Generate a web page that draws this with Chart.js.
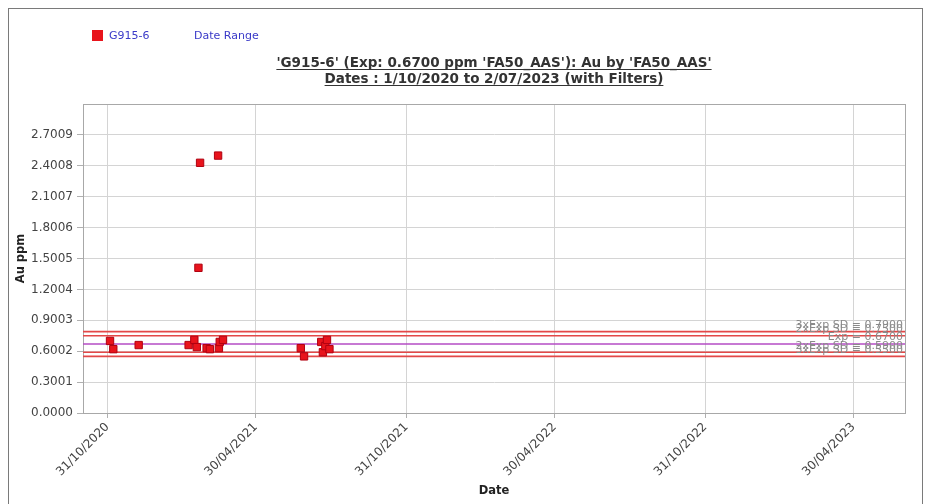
<!DOCTYPE html>
<html><head><meta charset="utf-8">
<script src="https://cdn.jsdelivr.net/npm/chart.js@4/dist/chart.umd.min.js"></script>
<style>
html,body{margin:0;padding:0;background:#fff;}
#wrap{position:relative;width:931px;height:504px;overflow:hidden;}
#frame{position:absolute;left:8px;top:8px;width:913px;height:520px;border:1px solid #7a7a7a;pointer-events:none;}
canvas{position:absolute;left:0;top:0;}
</style></head><body>
<div id="wrap"><canvas id="c" width="931" height="504"></canvas><div id="frame"></div></div>
<script>
// ---- data ----
const sampleDates = ['2020-11-03','2020-11-07','2020-12-08','2021-02-07','2021-02-14','2021-02-17','2021-02-19','2021-02-21','2021-03-01','2021-03-05','2021-03-15','2021-03-16','2021-03-17','2021-03-21','2021-06-24','2021-06-28','2021-07-19','2021-07-21','2021-07-24','2021-07-26','2021-07-29'];
const auValues = [0.70,0.62,0.66,0.66,0.71,0.64,1.41,2.43,0.63,0.62,2.50,0.63,0.69,0.71,0.63,0.55,0.69,0.59,0.65,0.71,0.62];
const refValues = [0.79,0.75,0.67,0.59,0.55];
const refLabels = ['3xExp SD = 0.7900','2xExp SD = 0.7500','Exp = 0.6700','2xExp SD = 0.5900','3xExp SD = 0.5500'];
const refColors = ['#e34848','#e34848','#b54cc4','#e34848','#e34848'];
const xTickDates = ['2020-10-31','2021-04-30','2021-10-31','2022-04-30','2022-10-31','2023-04-30'];
const xRange = ['2020-10-01','2023-07-02'];
const yTickValues = [0.0000,0.3001,0.6002,0.9003,1.2004,1.5005,1.8006,2.1007,2.4008,2.7009];
const yMax = 3.001;
const titleLines = ["'G915-6' (Exp: 0.6700 ppm 'FA50_AAS'): Au by 'FA50_AAS'", "Dates : 1/10/2020 to 2/07/2023 (with Filters)"];
const legendItems = ['G915-6','Date Range'];
const seriesName = 'G915-6';
const xTitle = 'Date', yTitle = 'Au ppm';

// ---- helpers ----
const ms = s => { const p = s.split('-').map(Number); return Date.UTC(p[0], p[1]-1, p[2]); };
const fmt = v => { const d = new Date(v); return d.getUTCDate() + '/' + String(d.getUTCMonth()+1).padStart(2,'0') + '/' + d.getUTCFullYear(); };
const xMin = ms(xRange[0]), xMax = ms(xRange[1]);

const datasets = [{
  type: 'scatter', label: seriesName,
  data: sampleDates.map((d,i) => ({x: ms(d), y: auValues[i]})),
  pointStyle: 'rect', pointRadius: 5.2, pointHoverRadius: 5.2,
  backgroundColor: '#e8141c', borderColor: '#b00010', borderWidth: 1, order: 0
}];
refValues.forEach((v,i) => datasets.push({
  type: 'line', label: refLabels[i],
  data: [{x: xMin, y: v}, {x: xMax, y: v}],
  borderColor: refColors[i], borderWidth: 1.6, pointRadius: 0, fill: false, order: 1
}));

const FONT = 'DejaVu Sans';

const decor = {
  id: 'decor',
  beforeDatasetsDraw(chart) {
    const {ctx, chartArea: a} = chart;
    ctx.save();
    ctx.strokeStyle = '#a8a8a8'; ctx.lineWidth = 1;
    ctx.strokeRect(a.left + 0.5, a.top + 0.5, a.right - a.left, a.bottom - a.top);
    ctx.restore();
  },
  afterDraw(chart) {
    const {ctx, chartArea: a, scales} = chart;
    ctx.save();
    // reference labels
    ctx.font = '11px ' + FONT; ctx.fillStyle = '#8a8a8a';
    ctx.textAlign = 'right'; ctx.textBaseline = 'bottom';
    refValues.forEach((v,i) => {
      const y = scales.y.getPixelForValue(v);
      ctx.fillText(refLabels[i], a.right - 2, y - 1);
    });
    // legend
    ctx.fillStyle = '#e8141c';
    ctx.fillRect(92, 30, 11, 11);
    ctx.fillStyle = '#3a3ac8'; ctx.font = '11px ' + FONT;
    ctx.textAlign = 'left'; ctx.textBaseline = 'middle';
    ctx.fillText(legendItems[0], 109, 36);
    ctx.fillText(legendItems[1], 194, 36);
    // title
    ctx.fillStyle = '#333'; ctx.strokeStyle = '#333'; ctx.lineWidth = 1;
    ctx.font = 'bold 13.5px ' + FONT; ctx.textAlign = 'center'; ctx.textBaseline = 'alphabetic';
    const cx = (a.left + a.right) / 2;
    [67, 83].forEach((y, i) => {
      ctx.fillText(titleLines[i], cx, y);
      const w = ctx.measureText(titleLines[i]).width;
      ctx.beginPath(); ctx.moveTo(cx - w/2, y + 2.5); ctx.lineTo(cx + w/2, y + 2.5); ctx.stroke();
    });
    ctx.restore();
  }
};

new Chart(document.getElementById('c'), {
  data: { datasets },
  options: {
    responsive: false, animation: false, devicePixelRatio: 1,
    layout: { padding: { left: 10, right: 26, top: 104, bottom: 2 } },
    plugins: { legend: { display: false }, title: { display: false }, tooltip: { enabled: false } },
    scales: {
      x: {
        type: 'linear', min: xMin, max: xMax,
        afterBuildTicks: s => { s.ticks = xTickDates.map(d => ({value: ms(d)})); },
        afterFit: s => { s.height = 89; },
        ticks: { callback: v => fmt(v), minRotation: 45, maxRotation: 45, autoSkip: false,
                 font: { family: FONT, size: 12 }, color: '#444', padding: 2 },
        grid: { color: '#d4d4d4', tickLength: 5, tickColor: '#b0b0b0' },
        border: { color: '#a8a8a8' },
        title: { display: true, text: xTitle, font: { family: FONT, size: 11.5, weight: 'bold' }, color: '#222', padding: { top: 0, bottom: 4 } }
      },
      y: {
        type: 'linear', min: 0, max: yMax,
        afterBuildTicks: s => { s.ticks = yTickValues.map(v => ({value: v})); },
        afterFit: s => { s.width = 73; },
        ticks: { callback: v => v.toFixed(4), font: { family: FONT, size: 12 }, color: '#444', padding: 4 },
        grid: { color: '#d4d4d4', tickLength: 6, tickColor: '#b0b0b0' },
        border: { color: '#a8a8a8' },
        title: { display: true, text: yTitle, font: { family: FONT, size: 11.5, weight: 'bold' }, color: '#222', padding: { top: 4, bottom: 0 } }
      }
    }
  },
  plugins: [decor]
});
</script>
</body></html>
